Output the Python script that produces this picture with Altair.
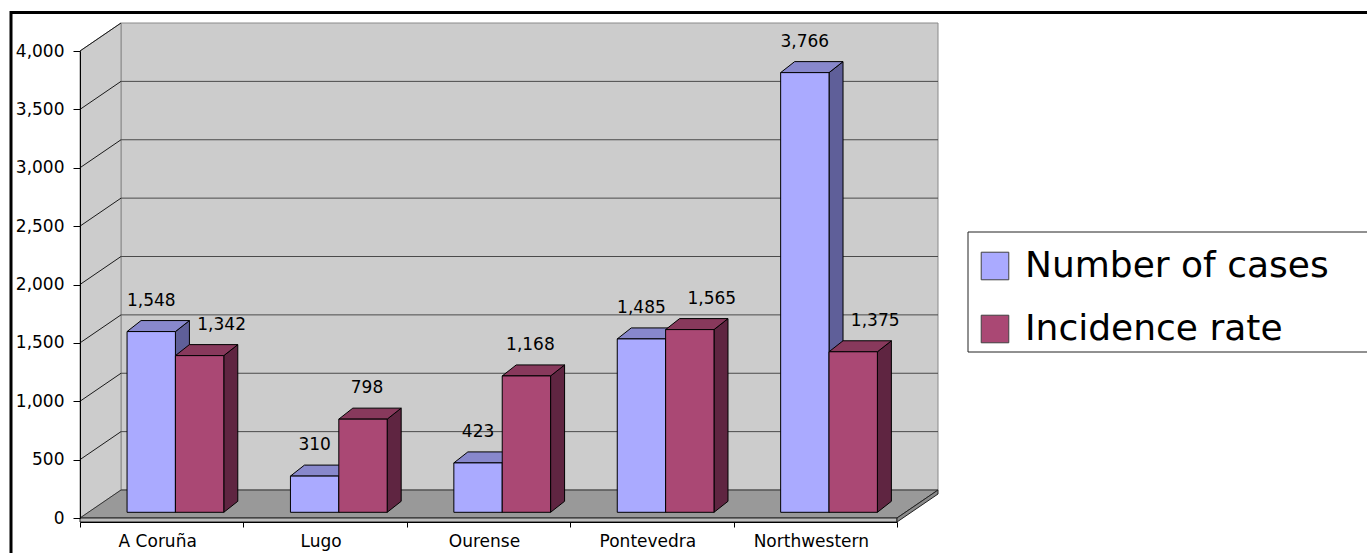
import altair as alt
import pandas as pd

# ---- data -------------------------------------------------------------
regions = ["A Coruña", "Lugo", "Ourense", "Pontevedra", "Northwestern"]
cases = [1548, 310, 423, 1485, 3766]
incidence = [1342, 798, 1168, 1565, 1375]
series_names = ["Number of cases", "Incidence rate"]
y_ticks = [0, 500, 1000, 1500, 2000, 2500, 3000, 3500, 4000]

# ---- layout / pseudo-3D projection ------------------------------------
N = len(regions)
Y_MAX = 4000
PLOT_W, PLOT_H = 817, 467
LEFT, TOP = 80, 51
TOTAL_W, TOTAL_H = 1367, 553

PX_X = PLOT_W / N          # pixels per category slot
PX_Y = PLOT_H / Y_MAX      # pixels per value unit

WALL_DX = 41 / PX_X        # depth of the box, in data units
WALL_DY = 28 / PX_Y
SLAB = 4 / PX_Y            # floor thickness
BAR_PLANE_DX = 8 / PX_X    # bars stand a little behind the front edge
BAR_PLANE_DY = 5.7 / PX_Y
BAR_DX = 14 / PX_X         # depth of each bar
BAR_DY = 11 / PX_Y
BAR_START = 0.239
BAR_W = 0.296

FONT = "DejaVu Sans"
FRONT = ["#AAAAFF", "#AA4874"]
TOPC = ["#8888CC", "#88395C"]
SIDE = ["#5F5F99", "#5F2541"]
WALL = "#CCCCCC"
FLOOR = "#999999"

X_SCALE = alt.Scale(domain=[0, N], nice=False, zero=False)
Y_SCALE = alt.Scale(domain=[0, Y_MAX], nice=False, zero=False)
X_AXIS = alt.Axis(values=list(range(N + 1)), labels=False, tickSize=5, tickColor="black",
                  domainColor="black", grid=False, title=None, offset=4, zindex=1)
Y_AXIS = alt.Axis(values=y_ticks, format=",.0f", tickSize=7, tickColor="black", domainColor="black",
                  labelPadding=9, labelFontSize=17, labelFont=FONT, labelColor="black",
                  grid=False, title=None, zindex=1)


def X(f):
    return alt.X(f, type="quantitative", scale=X_SCALE, axis=X_AXIS)


def Y(f):
    return alt.Y(f, type="quantitative", scale=Y_SCALE, axis=Y_AXIS, stack=None)


# ---- derived tables ---------------------------------------------------
bar_rows, side_rows, top_rows, label_rows = [], [], [], []
for i, region in enumerate(regions):
    vals = [cases[i], incidence[i]]
    for s, name in enumerate(series_names):
        v = vals[s]
        x0 = i + BAR_START + s * BAR_W + BAR_PLANE_DX
        x1 = x0 + BAR_W
        yb = BAR_PLANE_DY
        yt = v + BAR_PLANE_DY
        key = f"{region}-{s}"
        bar_rows.append(dict(series=name, s=s, x0=x0, x1=x1, yb=yb, yt=yt, value=v))
        for t in (0, 1):
            side_rows.append(dict(key=key, s=s, shade=SIDE[s], x=x1 + t * BAR_DX,
                                  y=yt + t * BAR_DY, y2=yb + t * BAR_DY))
            top_rows.append(dict(key=key, s=s, shade=TOPC[s], y=yt + t * BAR_DY,
                                 x=x0 + t * BAR_DX, x2=x1 + t * BAR_DX))
        # the second series' label moves right when it would run into the first bar
        if s == 0:
            shift = 0
        else:
            shift = 22 if vals[0] > vals[1] - 250 else 4
        label_rows.append(dict(x=(x0 + x1) / 2 + shift / PX_X, y=yt, value=v))

bars = pd.DataFrame(bar_rows)
sides = pd.DataFrame(side_rows)
tops = pd.DataFrame(top_rows)
labels = pd.DataFrame(label_rows)

left_wall = pd.DataFrame([dict(x=t * WALL_DX, y=Y_MAX + t * WALL_DY, y2=t * WALL_DY) for t in (0, 1)])
back_wall = pd.DataFrame([dict(x=WALL_DX, x2=N + WALL_DX, y=WALL_DY, y2=Y_MAX + WALL_DY)])
floor = pd.DataFrame([dict(y=t * WALL_DY, x=t * WALL_DX, x2=N + t * WALL_DX) for t in (0, 1)])
slab_front = pd.DataFrame([dict(x=0, x2=N, y=-SLAB, y2=0)])
slab_side = pd.DataFrame([dict(x=N + t * WALL_DX, y=t * WALL_DY, y2=-SLAB + t * WALL_DY) for t in (0, 1)])
back_grid = pd.DataFrame([dict(x=WALL_DX, x2=N + WALL_DX, y=v + WALL_DY, y2=v + WALL_DY)
                          for v in y_ticks[1:-1]])
side_grid = pd.DataFrame([dict(x=0, x2=WALL_DX, y=v, y2=v + WALL_DY) for v in y_ticks[1:]])
cats = pd.DataFrame(dict(x=[i + 0.5 for i in range(N)], region=regions))

# ---- layers -----------------------------------------------------------
layers = []

layers.append(alt.Chart(back_wall).mark_rect(fill=WALL, stroke="#8a8a8a", strokeWidth=1).encode(
    x=X("x"), x2="x2", y=Y("y"), y2="y2"))
layers.append(alt.Chart(left_wall).mark_area(orient="vertical", fill=WALL, stroke="#8a8a8a",
                                             strokeWidth=1).encode(x=X("x"), y=Y("y"), y2="y2"))
layers.append(alt.Chart(back_grid).mark_rule(color="#4a4a4a", strokeWidth=1).encode(
    x=X("x"), x2="x2", y=Y("y"), y2="y2"))
layers.append(alt.Chart(side_grid).mark_rule(color="#1a1a1a", strokeWidth=1).encode(
    x=X("x"), x2="x2", y=Y("y"), y2="y2"))
layers.append(alt.Chart(floor).mark_area(orient="horizontal", fill=FLOOR, stroke="#333333",
                                         strokeWidth=1).encode(y=Y("y"), x=X("x"), x2="x2"))
layers.append(alt.Chart(slab_front).mark_rect(fill="#BDBDBD", stroke="#222222", strokeWidth=1).encode(
    x=X("x"), x2="x2", y=Y("y"), y2="y2"))
layers.append(alt.Chart(slab_side).mark_area(orient="vertical", fill="#8a8a8a", stroke="#222222",
                                             strokeWidth=1).encode(x=X("x"), y=Y("y"), y2="y2"))

for s in range(len(series_names)):
    layers.append(alt.Chart(sides).transform_filter(alt.datum.s == s).mark_area(
        orient="vertical", stroke="black", strokeWidth=1).encode(
        x=X("x"), y=Y("y"), y2="y2", detail="key:N", fill=alt.Fill("shade:N", scale=None)))
    layers.append(alt.Chart(tops).transform_filter(alt.datum.s == s).mark_area(
        orient="horizontal", stroke="black", strokeWidth=1).encode(
        y=Y("y"), x=X("x"), x2="x2", detail="key:N", fill=alt.Fill("shade:N", scale=None)))

layers.append(alt.Chart(bars).mark_rect(stroke="black", strokeWidth=1).encode(
    x=X("x0"), x2="x1", y=Y("yb"), y2="yt",
    color=alt.Color("series:N", scale=alt.Scale(domain=series_names, range=FRONT),
                    legend=alt.Legend(title=None, orient="none", legendX=897, legendY=197,
                                      symbolType="square", symbolSize=760,
                                      symbolStrokeColor="#404040", symbolStrokeWidth=1,
                                      labelFont=FONT, labelFontSize=36, labelColor="black",
                                      labelOffset=12, labelLimit=600, rowPadding=27,
                                      padding=0))))

layers.append(alt.Chart(labels).mark_text(font=FONT, fontSize=17, color="black", dy=-31,
                                          baseline="middle").encode(
    x=X("x"), y=Y("y"), text=alt.Text("value:Q", format=",")))

layers.append(alt.Chart(cats).mark_text(font=FONT, fontSize=17, color="black", dx=-4,
                                        baseline="alphabetic").encode(
    x=X("x"), y=alt.value(PLOT_H + 29), text="region:N"))

# legend frame and outer chart border
layers.append(alt.Chart(alt.Data(values=[{}])).mark_rect(fill="white", stroke="#222222",
                                                         strokeWidth=1).encode(
    x=alt.value(968 - LEFT), x2=alt.value(TOTAL_W + 20 - LEFT),
    y=alt.value(232 - TOP), y2=alt.value(352 - TOP)))
layers.append(alt.Chart(alt.Data(values=[{}])).mark_rect(filled=False, stroke="black",
                                                         strokeWidth=3).encode(
    x=alt.value(11 - LEFT), x2=alt.value(TOTAL_W + 20 - LEFT),
    y=alt.value(12.5 - TOP), y2=alt.value(TOTAL_H + 20 - TOP)))

chart = alt.layer(*layers).properties(
    width=PLOT_W, height=PLOT_H,
    autosize=alt.AutoSizeParams(type="none"),
    padding={"left": LEFT, "top": TOP, "right": TOTAL_W - LEFT - PLOT_W,
             "bottom": TOTAL_H - TOP - PLOT_H},
    background="white",
).configure_view(stroke=None)

chart.save("out.html", embed_options={"renderer": "svg", "actions": False})
